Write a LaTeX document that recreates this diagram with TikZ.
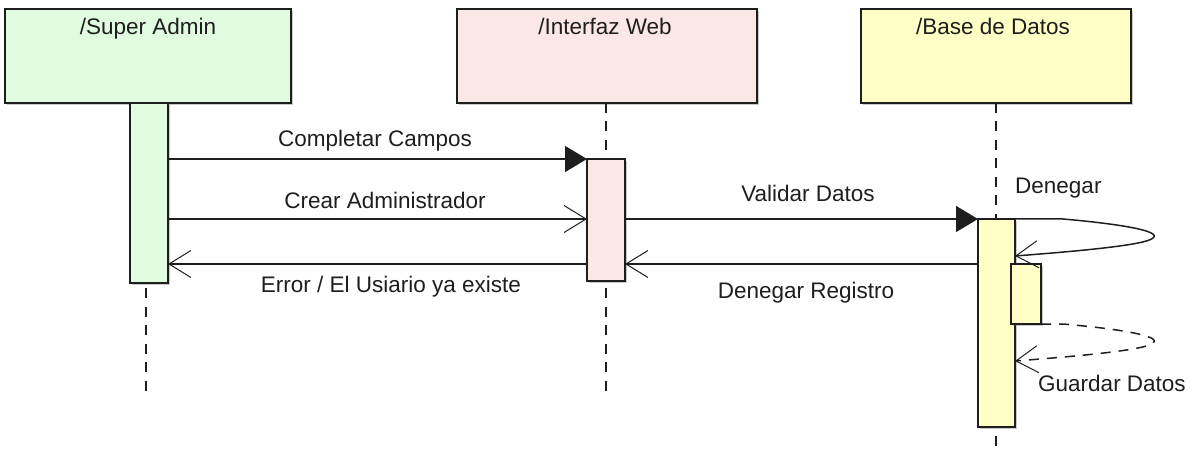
\documentclass[tikz,border=0pt]{standalone}
\usepackage{fontspec}
\setmainfont{Liberation Sans}
\usetikzlibrary{arrows.meta,shadows}
\definecolor{gA}{HTML}{E1FBE1}
\definecolor{pW}{HTML}{FCE7E7}
\definecolor{yD}{HTML}{FFFFC6}
\definecolor{ink}{HTML}{1E1E1E}
\begin{document}
\begin{tikzpicture}[x=1pt,y=-1pt,
  boxbase/.style={draw=ink, line width=1.5pt, anchor=north west, inner sep=0pt, outer sep=0pt,
    drop shadow={shadow xshift=2pt,shadow yshift=-2pt,opacity=0.35,fill=black!60}},
  hdr/.style={boxbase, minimum height=94pt},
  actbox/.style={boxbase},
  lbl/.style={font=\fontsize{22.5}{27}\selectfont, text=ink, inner sep=0pt, anchor=base},
  life/.style={draw=ink, line width=1.5pt, dash pattern=on 10pt off 8.5pt},
  msg/.style={draw=ink, line width=1.5pt},
  sync/.style={msg, -{Triangle[length=22pt,width=26pt]}},
  ret/.style={msg, -{Straight Barb[length=22pt,width=27pt,line width=1pt]}},
]
\useasboundingbox (0,0) rectangle (1199,449);

% header boxes
\node[hdr, fill=gA, minimum width=286pt] (sa) at (5,9) {};
\node[hdr, fill=pW, minimum width=300pt] (iw) at (457,9) {};
\node[hdr, fill=yD, minimum width=270pt] (bd) at (861,9) {};
\node[lbl] (saT) at (148,35) {/Super Admin};
\node[lbl] (iwT) at (605,35) {/Interfaz Web};
\node[lbl] (bdT) at (993,35) {/Base de Datos};

% lifelines
\coordinate (saE) at (146,397);
\coordinate (iwE) at (606,397);
\coordinate (bdE) at (996,449);
\draw[life] (sa.south -| saE) -- (saE);
\draw[life] (iw.south -| iwE) -- (iwE);
\draw[life] (bd.south -| bdE) -- (bdE);

% activations
\node[actbox, fill=gA, minimum width=38pt, minimum height=180pt] (saA) at (130,103) {};
\node[actbox, fill=pW, minimum width=38pt, minimum height=122pt] (iwA) at (587,159) {};
\node[actbox, fill=yD, minimum width=37pt, minimum height=208pt] (bdA) at (978,219) {};
\node[actbox, fill=yD, minimum width=30pt, minimum height=60pt] (bdN) at (1011,264) {};

% messages
\draw[sync] (saA.east |- 0,159) -- (iwA.north west);
\draw[ret] (saA.east |- 0,219) -- (iwA.west |- 0,219);
\draw[ret] (iwA.west |- 0,264) -- (saA.east |- 0,264);
\draw[sync] (iwA.east |- 0,219) -- (bdA.north west);
\draw[ret] (bdA.west |- 0,264) -- (iwA.east |- 0,264);
\draw[ret] (bdA.north east) -- (1063,219)
  .. controls (1120,224) and (1162,231) .. (1153,238)
  .. controls (1146,245) and (1080,251) .. (bdA.east |- 0,256);
\draw[ret, dash pattern=on 10pt off 8pt] (bdN.south east) -- (1063,324)
  .. controls (1120,329) and (1162,336) .. (1153,343)
  .. controls (1146,350) and (1080,356) .. (bdA.east |- 0,361);

% labels
\node[lbl] (l1) at (375,147) {Completar Campos};
\node[lbl] (l2) at (385,208) {Crear Administrador};
\node[lbl] (l3) at (391,292) {Error / El Usiario ya existe};
\node[lbl] (l4) at (808,202) {Validar Datos};
\node[lbl] (l5) at (806,298) {Denegar Registro};
\node[lbl, anchor=base west] (l6) at (1015,194) {Denegar};
\node[lbl, anchor=base west] (l7) at (1038,391) {Guardar Datos};
\end{tikzpicture}
\end{document}
